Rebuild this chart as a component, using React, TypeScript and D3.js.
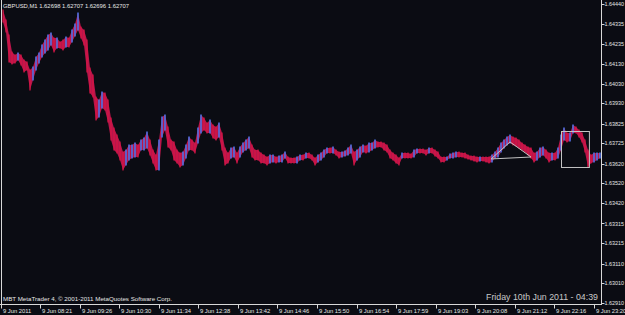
import React from 'react';
import * as d3 from 'd3';

const W = 625;
const H = 315;

const highs = [
  1.64407, 1.64356, 1.64279, 1.64192, 1.64177, 1.64187, 1.64177, 1.64151, 1.64141, 1.64100,
  1.64115, 1.64166, 1.64187, 1.64228, 1.64253, 1.64279, 1.64289, 1.64264, 1.64264, 1.64243,
  1.64253, 1.64269, 1.64264, 1.64304, 1.64335, 1.64391, 1.64320, 1.64304, 1.64253, 1.64110,
  1.64074, 1.63962, 1.63947, 1.63987, 1.63982, 1.63947, 1.63855, 1.63803, 1.63768, 1.63732,
  1.63681, 1.63691, 1.63716, 1.63716, 1.63727, 1.63716, 1.63742, 1.63752, 1.63783, 1.63742,
  1.63691, 1.63665, 1.63742, 1.63860, 1.63870, 1.63808, 1.63742, 1.63732, 1.63691, 1.63676,
  1.63681, 1.63716, 1.63757, 1.63742, 1.63727, 1.63803, 1.63870, 1.63855, 1.63829, 1.63844,
  1.63819, 1.63808, 1.63829, 1.63778, 1.63701, 1.63676, 1.63701, 1.63706, 1.63676, 1.63706,
  1.63727, 1.63742, 1.63757, 1.63716, 1.63691, 1.63691, 1.63676, 1.63665, 1.63655, 1.63665,
  1.63665, 1.63655, 1.63660, 1.63665, 1.63681, 1.63655, 1.63650, 1.63650, 1.63655, 1.63665,
  1.63665, 1.63676, 1.63676, 1.63665, 1.63650, 1.63665, 1.63676, 1.63691, 1.63701, 1.63701,
  1.63706, 1.63691, 1.63681, 1.63681, 1.63686, 1.63701, 1.63716, 1.63681, 1.63691, 1.63706,
  1.63716, 1.63711, 1.63727, 1.63727, 1.63742, 1.63732, 1.63732, 1.63727, 1.63716, 1.63691,
  1.63676, 1.63665, 1.63650, 1.63676, 1.63676, 1.63676, 1.63670, 1.63691, 1.63696, 1.63696,
  1.63696, 1.63691, 1.63701, 1.63701, 1.63691, 1.63681, 1.63655, 1.63655, 1.63655, 1.63670,
  1.63676, 1.63681, 1.63681, 1.63676, 1.63676, 1.63665, 1.63660, 1.63660, 1.63655, 1.63655,
  1.63655, 1.63655, 1.63655, 1.63665, 1.63681, 1.63701, 1.63727, 1.63742, 1.63757, 1.63768,
  1.63757, 1.63752, 1.63742, 1.63727, 1.63716, 1.63706, 1.63701, 1.63676, 1.63681, 1.63701,
  1.63706, 1.63691, 1.63676, 1.63676, 1.63676, 1.63701, 1.63768, 1.63803, 1.63778, 1.63778,
  1.63819, 1.63808, 1.63793, 1.63778, 1.63742, 1.63691, 1.63665, 1.63676, 1.63676, 1.63676,
];

const lows = [
  1.64345, 1.64294, 1.64141, 1.64131, 1.64136, 1.64151, 1.64126, 1.64090, 1.64100, 1.63998,
  1.64049, 1.64100, 1.64136, 1.64166, 1.64187, 1.64202, 1.64228, 1.64192, 1.64212, 1.64212,
  1.64202, 1.64218, 1.64218, 1.64243, 1.64274, 1.64304, 1.64264, 1.64228, 1.64090, 1.63982,
  1.63962, 1.63844, 1.63860, 1.63906, 1.63895, 1.63834, 1.63742, 1.63691, 1.63676, 1.63640,
  1.63589, 1.63614, 1.63640, 1.63650, 1.63655, 1.63655, 1.63691, 1.63691, 1.63701, 1.63665,
  1.63624, 1.63589, 1.63589, 1.63757, 1.63793, 1.63706, 1.63691, 1.63640, 1.63624, 1.63604,
  1.63614, 1.63650, 1.63691, 1.63691, 1.63676, 1.63727, 1.63778, 1.63793, 1.63778, 1.63778,
  1.63752, 1.63742, 1.63757, 1.63691, 1.63614, 1.63624, 1.63650, 1.63655, 1.63624, 1.63655,
  1.63681, 1.63691, 1.63701, 1.63655, 1.63640, 1.63640, 1.63624, 1.63624, 1.63614, 1.63624,
  1.63630, 1.63624, 1.63630, 1.63630, 1.63650, 1.63624, 1.63624, 1.63624, 1.63624, 1.63640,
  1.63640, 1.63650, 1.63650, 1.63640, 1.63614, 1.63630, 1.63640, 1.63655, 1.63676, 1.63676,
  1.63676, 1.63665, 1.63650, 1.63655, 1.63660, 1.63665, 1.63676, 1.63614, 1.63640, 1.63655,
  1.63681, 1.63676, 1.63681, 1.63691, 1.63701, 1.63706, 1.63706, 1.63691, 1.63681, 1.63650,
  1.63640, 1.63624, 1.63614, 1.63650, 1.63650, 1.63650, 1.63650, 1.63655, 1.63676, 1.63676,
  1.63676, 1.63665, 1.63676, 1.63676, 1.63660, 1.63650, 1.63630, 1.63630, 1.63640, 1.63650,
  1.63650, 1.63655, 1.63655, 1.63655, 1.63650, 1.63645, 1.63640, 1.63635, 1.63630, 1.63635,
  1.63635, 1.63630, 1.63624, 1.63630, 1.63650, 1.63655, 1.63681, 1.63701, 1.63716, 1.63727,
  1.63716, 1.63711, 1.63701, 1.63691, 1.63681, 1.63665, 1.63650, 1.63630, 1.63640, 1.63655,
  1.63665, 1.63650, 1.63630, 1.63640, 1.63640, 1.63650, 1.63691, 1.63742, 1.63732, 1.63737,
  1.63778, 1.63778, 1.63757, 1.63732, 1.63681, 1.63604, 1.63624, 1.63630, 1.63640, 1.63650,
];

const priceTicks = [
  1.6444, 1.64335, 1.64235, 1.6413, 1.6403, 1.6393, 1.63825, 1.63725,
  1.6362, 1.6352, 1.6342, 1.63315, 1.63215, 1.6311, 1.6301, 1.6291,
];

const timeLabels = [
  '9 Jun 2011', '9 Jun 08:21', '9 Jun 09:26', '9 Jun 10:30', '9 Jun 11:34', '9 Jun 12:38',
  '9 Jun 13:42', '9 Jun 14:46', '9 Jun 15:50', '9 Jun 16:54', '9 Jun 17:59', '9 Jun 19:03',
  '9 Jun 20:08', '9 Jun 21:12', '9 Jun 22:16', '9 Jun 23:20',
];
const BARS_PER_LABEL = 64;

const headerText = 'GBPUSD,M1  1.62698 1.62707 1.62696 1.62707';
const copyrightText = 'MBT MetaTrader 4, \u00a9 2001-2011 MetaQuotes Software Corp.';
const clockText = 'Friday 10th Jun 2011 - 04:39';

// chart objects (bar index, price)
const trianglePts: [number, number][] = [
  [162.7, 1.63645],
  [169, 1.63732],
  [176, 1.63655],
];
const rectPts: [number, number][] = [
  [186, 1.63788],
  [195.3, 1.63604],
];

const BG = '#0b0c13';
const UP = '#4f70e4';
const DOWN = '#d81545';
const BAND = '#b8164a';
const AXIS = '#d8d8d8';
const TXT = '#e6e6e6';
const OBJ = '#c4c4c4';
const FONT = '"Liberation Sans", Arial, sans-serif';

export default function App() {
  const y = d3.scaleLinear().domain([1.6291, 1.6444]).range([302.7, 3.5]);
  const x = d3.scaleLinear().domain([0, highs.length - 1]).range([3, 600]);
  const step = x(1) - x(0);
  const tx = d3
    .scaleLinear()
    .domain([0, BARS_PER_LABEL * (timeLabels.length - 1)])
    .range([0.5, 594]);

  const bars = highs.map((h, i) => {
    const mid = (h + lows[i]) / 2;
    const prevMid = i > 0 ? (highs[i - 1] + lows[i - 1]) / 2 : mid + 1;
    return { i, h, l: lows[i], up: mid > prevMid };
  });

  const band = d3
    .area<number>()
    .x((_, i) => x(i))
    .y0((_, i) => y(lows[i]))
    .y1((h) => y(h))(highs);

  const triPath = d3.line()(trianglePts.map(([b, p]) => [x(b), y(p)] as [number, number])) + 'Z';
  const rx0 = x(rectPts[0][0]);
  const rx1 = x(rectPts[1][0]);
  const ry0 = y(rectPts[0][1]);
  const ry1 = y(rectPts[1][1]);

  return (
    <svg
      width={W}
      height={H}
      style={{ position: 'fixed', left: 0, top: 0, display: 'block', background: BG }}
      fontFamily={FONT}
    >
      <rect x={0} y={0} width={W} height={H} fill={BG} />
      <path d={band ?? ''} fill={BAND} />
      <g>
        {bars.map((b) => (
          <line
            key={b.i}
            x1={x(b.i)}
            x2={x(b.i)}
            y1={y(b.h) - 0.5}
            y2={y(b.l) + 0.5}
            stroke={b.up ? UP : DOWN}
            strokeWidth={b.up ? 1.6 : 1.2}
          />
        ))}
      </g>
      <path d={triPath} fill="none" stroke={OBJ} strokeWidth={1} />
      <rect
        x={Math.round(rx0) + 0.5}
        y={Math.round(ry0) + 0.5}
        width={rx1 - rx0}
        height={ry1 - ry0}
        fill="none"
        stroke={OBJ}
        strokeWidth={1}
      />
      {/* frame */}
      <line x1={1.5} y1={0} x2={1.5} y2={304.5} stroke={AXIS} strokeWidth={1} />
      <line x1={601.5} y1={0} x2={601.5} y2={305} stroke={AXIS} strokeWidth={1} />
      <line x1={0} y1={304.5} x2={601.5} y2={304.5} stroke={AXIS} strokeWidth={1} />
      {/* price axis */}
      {priceTicks.map((p) => (
        <g key={p}>
          <line x1={601.5} x2={604.5} y1={Math.round(y(p)) + 0.5} y2={Math.round(y(p)) + 0.5} stroke={AXIS} />
          <text
            x={604.5}
            y={y(p)}
            dy="0.35em"
            fontSize={5.8}
            fill={TXT}
            textLength={19.5}
            lengthAdjust="spacingAndGlyphs"
          >
            {p.toFixed(5)}
          </text>
        </g>
      ))}
      {/* time axis */}
      {timeLabels.map((t, k) => {
        const px = Math.round(tx(k * BARS_PER_LABEL)) + 0.5;
        return (
          <g key={t}>
            <line x1={px} x2={px} y1={304.5} y2={308.5} stroke={AXIS} />
            <text x={px + 1.5} y={311} dy="0.35em" fontSize={5.8} fill={TXT}>
              {t}
            </text>
          </g>
        );
      })}
      <text
        x={3}
        y={6}
        dy="0.35em"
        fontSize={6.2}
        fill={TXT}
        textLength={126}
        lengthAdjust="spacingAndGlyphs"
      >
        {headerText}
      </text>
      <text
        x={3}
        y={299}
        dy="0.35em"
        fontSize={6.1}
        fill={TXT}
        textLength={169}
        lengthAdjust="spacingAndGlyphs"
      >
        {copyrightText}
      </text>
      <text
        x={598}
        y={297.5}
        dy="0.35em"
        fontSize={8.4}
        fill="#c8c8c8"
        textAnchor="end"
        textLength={112}
        lengthAdjust="spacingAndGlyphs"
      >
        {clockText}
      </text>
    </svg>
  );
}
